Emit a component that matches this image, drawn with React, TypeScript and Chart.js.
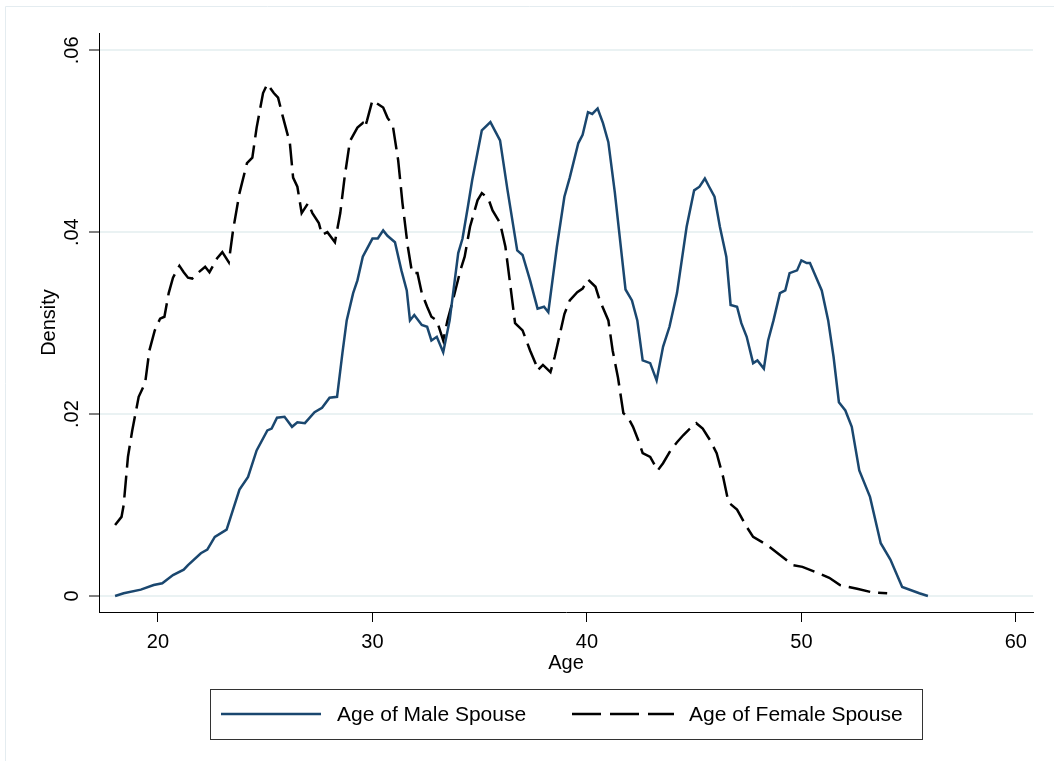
import React, { useEffect, useRef } from "react";
import { Chart, registerables } from "chart.js";

Chart.register(...registerables);

const maleAge = [18.0, 18.4, 19.2, 19.8, 20.2, 20.7, 21.2, 21.4, 22.0, 22.3, 22.65, 23.2, 23.5, 23.8, 24.2, 24.6, 25.1, 25.3, 25.55, 25.9, 26.25, 26.5, 26.85, 27.3, 27.65, 28.0, 28.35, 28.6, 28.8, 29.1, 29.3, 29.55, 30.0, 30.25, 30.5, 30.7, 31.05, 31.35, 31.6, 31.75, 31.95, 32.3, 32.55, 32.75, 33.0, 33.3, 33.6, 34.0, 34.2, 34.45, 34.65, 35.1, 35.5, 35.95, 36.3, 36.75, 37.0, 37.35, 37.7, 38.0, 38.2, 38.6, 38.95, 39.2, 39.6, 39.8, 40.05, 40.25, 40.5, 40.75, 41.0, 41.3, 41.8, 42.1, 42.35, 42.6, 42.95, 43.25, 43.55, 43.85, 44.2, 44.65, 45.0, 45.25, 45.5, 45.7, 45.95, 46.2, 46.5, 46.7, 47.0, 47.2, 47.45, 47.75, 47.95, 48.25, 48.45, 48.7, 49.0, 49.25, 49.45, 49.8, 50.0, 50.25, 50.4, 50.6, 50.95, 51.25, 51.5, 51.75, 52.05, 52.35, 52.7, 53.2, 53.7, 54.15, 54.7, 55.5, 55.9];
const maleDensity = [0.0, 0.0003, 0.0007, 0.0012, 0.0014, 0.0023, 0.0029, 0.0034, 0.0047, 0.0051, 0.0065, 0.0073, 0.0095, 0.0117, 0.0131, 0.016, 0.0182, 0.0184, 0.0196, 0.0197, 0.0186, 0.0191, 0.019, 0.0202, 0.0207, 0.0218, 0.0219, 0.0267, 0.0303, 0.0333, 0.0347, 0.0373, 0.0393, 0.0393, 0.0402, 0.0396, 0.0389, 0.0358, 0.0336, 0.0303, 0.0309, 0.0298, 0.0296, 0.0281, 0.0285, 0.0268, 0.0303, 0.0377, 0.0393, 0.0428, 0.0457, 0.0512, 0.0521, 0.0501, 0.0446, 0.038, 0.0375, 0.0347, 0.0316, 0.0318, 0.0312, 0.0384, 0.0439, 0.046, 0.0498, 0.0507, 0.0532, 0.053, 0.0536, 0.052, 0.0499, 0.0444, 0.0337, 0.0325, 0.0303, 0.0259, 0.0256, 0.0237, 0.0274, 0.0296, 0.0333, 0.0406, 0.0446, 0.045, 0.0459, 0.045, 0.0439, 0.0406, 0.0373, 0.032, 0.0318, 0.03, 0.0285, 0.0256, 0.0259, 0.025, 0.0281, 0.0303, 0.0333, 0.0336, 0.0355, 0.0358, 0.0369, 0.0366, 0.0366, 0.0355, 0.0336, 0.0303, 0.0263, 0.0213, 0.0204, 0.0186, 0.0138, 0.0109, 0.0058, 0.004, 0.001, 0.0003, 0.0];

const femaleAge = [18.0, 18.3, 18.4, 18.6, 18.8, 19.1, 19.4, 19.6, 19.85, 20.1, 20.3, 20.5, 20.7, 21.0, 21.2, 21.4, 21.6, 21.9, 22.2, 22.4, 22.75, 23.0, 23.3, 23.5, 23.8, 24.15, 24.4, 24.6, 24.9, 25.1, 25.4, 25.6, 25.8, 26.15, 26.3, 26.5, 26.7, 27.0, 27.2, 27.5, 27.65, 27.9, 28.25, 28.5, 28.7, 28.95, 29.3, 29.55, 29.65, 29.75, 30.0, 30.25, 30.5, 30.7, 30.95, 31.2, 31.4, 31.65, 31.85, 32.1, 32.3, 32.55, 32.75, 33.0, 33.3, 33.5, 33.75, 34.1, 34.3, 34.55, 34.9, 35.1, 35.4, 35.6, 35.95, 36.2, 36.4, 36.65, 37.0, 37.35, 37.6, 37.7, 37.95, 38.3, 38.5, 38.75, 38.95, 39.2, 39.55, 39.8, 40.05, 40.4, 40.6, 41.0, 41.2, 41.45, 41.7, 41.9, 42.15, 42.4, 42.6, 42.95, 43.3, 43.55, 43.9, 44.2, 44.5, 44.8, 45.1, 45.4, 45.75, 46.05, 46.35, 46.6, 47.0, 47.45, 47.75, 48.4, 49.0, 49.6, 50.05, 50.7, 51.3, 51.8, 52.6, 53.3, 54.0];
const femaleDensity = [0.0078, 0.0087, 0.01, 0.0153, 0.0182, 0.0219, 0.0234, 0.027, 0.0292, 0.0305, 0.0307, 0.0333, 0.035, 0.0363, 0.0356, 0.035, 0.0349, 0.0356, 0.0362, 0.0356, 0.0371, 0.0378, 0.0367, 0.0402, 0.0443, 0.0476, 0.0482, 0.0515, 0.0553, 0.0563, 0.0553, 0.0548, 0.0529, 0.0498, 0.046, 0.045, 0.0421, 0.0432, 0.0421, 0.041, 0.0397, 0.04, 0.0389, 0.0421, 0.046, 0.05, 0.0515, 0.052, 0.0515, 0.0523, 0.0545, 0.0541, 0.0537, 0.0526, 0.0517, 0.0479, 0.0432, 0.0384, 0.0355, 0.0355, 0.0333, 0.0318, 0.0307, 0.0303, 0.0281, 0.0303, 0.0325, 0.0358, 0.0373, 0.0406, 0.0435, 0.0443, 0.0437, 0.0424, 0.041, 0.0384, 0.0347, 0.03, 0.0292, 0.027, 0.0256, 0.0248, 0.0254, 0.0246, 0.0263, 0.0289, 0.031, 0.0325, 0.0334, 0.0338, 0.0348, 0.034, 0.0325, 0.0303, 0.027, 0.024, 0.0201, 0.0197, 0.0186, 0.0171, 0.0157, 0.0153, 0.0138, 0.0146, 0.016, 0.0169, 0.0177, 0.0184, 0.019, 0.0184, 0.0171, 0.0157, 0.0131, 0.0103, 0.0095, 0.0076, 0.0065, 0.0056, 0.0045, 0.0034, 0.0032, 0.0026, 0.002, 0.0012, 0.0008, 0.0004, 0.0003];

const xTicks = [20, 30, 40, 50, 60];
const yTicks = [0, 0.02, 0.04, 0.06];
const yTickLabels = ["0", ".02", ".04", ".06"];
const seriesLabels = ["Age of Male Spouse", "Age of Female Spouse"];
const xTitle = "Age";
const yTitle = "Density";

const NAVY = "#1a476f";
const FONT = '20px "Liberation Sans", Arial, Helvetica, sans-serif';
const LEGEND_FONT = '21px "Liberation Sans", Arial, Helvetica, sans-serif';

const stataPlugin = {
  id: "stataDecor",
  beforeDraw(chart: any) {
    const ctx = chart.ctx;
    ctx.save();
    ctx.fillStyle = "#ffffff";
    ctx.fillRect(0, 0, chart.width, chart.height);
    ctx.strokeStyle = "#e4ecf0";
    ctx.lineWidth = 1;
    ctx.beginPath();
    ctx.moveTo(5.5, chart.height);
    ctx.lineTo(5.5, 6.5);
    ctx.lineTo(chart.width, 6.5);
    ctx.stroke();
    ctx.restore();
  },
  afterDraw(chart: any) {
    const ctx = chart.ctx;
    const xs = chart.scales.x;
    const ys = chart.scales.y;
    const area = chart.chartArea;
    ctx.save();
    ctx.fillStyle = "#000";
    ctx.font = FONT;
    ctx.textAlign = "center";
    ctx.textBaseline = "alphabetic";
    xTicks.forEach((v) => {
      ctx.fillText(String(v), xs.getPixelForValue(v), 648);
    });
    ctx.fillText(xTitle, (area.left + area.right) / 2, 669);
    yTicks.forEach((v, i) => {
      ctx.save();
      ctx.translate(78, ys.getPixelForValue(v));
      ctx.rotate(-Math.PI / 2);
      ctx.textAlign = "center";
      ctx.fillText(yTickLabels[i], 0, 0);
      ctx.restore();
    });
    ctx.save();
    ctx.translate(55, (area.top + area.bottom) / 2);
    ctx.rotate(-Math.PI / 2);
    ctx.textAlign = "center";
    ctx.fillText(yTitle, 0, 0);
    ctx.restore();

    // legend
    ctx.strokeStyle = "#333";
    ctx.lineWidth = 1;
    ctx.strokeRect(210.5, 689.5, 712, 50);
    ctx.lineWidth = 2.5;
    ctx.strokeStyle = NAVY;
    ctx.beginPath();
    ctx.moveTo(221, 714);
    ctx.lineTo(321, 714);
    ctx.stroke();
    ctx.strokeStyle = "#000";
    ctx.setLineDash([29, 9]);
    ctx.beginPath();
    ctx.moveTo(572, 714);
    ctx.lineTo(674, 714);
    ctx.stroke();
    ctx.setLineDash([]);
    ctx.font = LEGEND_FONT;
    ctx.textAlign = "left";
    ctx.fillText(seriesLabels[0], 337, 721);
    ctx.fillText(seriesLabels[1], 689, 721);
    ctx.restore();
  },
};

export default function App() {
  const ref = useRef<HTMLCanvasElement | null>(null);
  useEffect(() => {
    document.body.style.margin = "0";
    const canvas = ref.current;
    if (!canvas) return;
    const maleData = maleAge.map((x, i) => ({ x, y: maleDensity[i] }));
    const femaleData = femaleAge.map((x, i) => ({ x, y: femaleDensity[i] }));
    const chart = new Chart(canvas, {
      type: "line",
      data: {
        datasets: [
          {
            label: seriesLabels[0],
            data: maleData,
            borderColor: NAVY,
            borderWidth: 2.5,
            pointRadius: 0,
            tension: 0,
            fill: false,
          },
          {
            label: seriesLabels[1],
            data: femaleData,
            borderColor: "#000",
            borderWidth: 2.5,
            borderDash: [22, 8],
            pointRadius: 0,
            tension: 0,
            fill: false,
          },
        ],
      },
      options: {
        animation: false,
        responsive: false,
        devicePixelRatio: 1,
        layout: { padding: { left: 0, top: 33, right: 21, bottom: 0 } },
        plugins: {
          legend: { display: false },
          tooltip: { enabled: false },
        },
        scales: {
          x: {
            type: "linear",
            min: 17.25,
            max: 60.8,
            afterBuildTicks: (s: any) => {
              s.ticks = xTicks.map((v) => ({ value: v }));
            },
            afterFit: (s: any) => {
              s.height = 149;
            },
            grid: {
              drawOnChartArea: false,
              drawTicks: true,
              tickLength: 10,
              tickColor: "#000",
              tickWidth: 1,
            },
            border: { display: true, color: "#000", width: 1 },
            ticks: { display: false },
          },
          y: {
            type: "linear",
            min: -0.00176,
            max: 0.0619,
            afterBuildTicks: (s: any) => {
              s.ticks = yTicks.map((v) => ({ value: v }));
            },
            afterFit: (s: any) => {
              s.width = 99;
            },
            grid: {
              color: "rgb(234,242,243)",
              lineWidth: 2,
              drawTicks: true,
              tickLength: 10,
              tickColor: "#000",
              tickWidth: 1,
            },
            border: { display: true, color: "#000", width: 1 },
            ticks: { display: false },
          },
        },
      },
      plugins: [stataPlugin],
    } as any);
    return () => chart.destroy();
  }, []);
  return <canvas ref={ref} width={1054} height={761} style={{ display: "block" }} />;
}
